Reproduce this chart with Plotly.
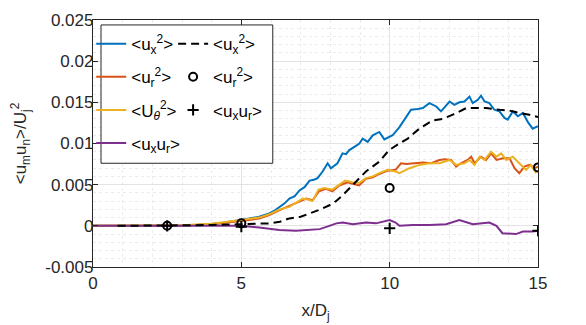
import plotly.graph_objects as go

# ---------------- data ----------------
blue_x = [0, 1, 2, 3, 3.5, 4, 4.3, 4.6, 5.0, 5.27, 5.6, 5.94, 6.1, 6.28, 6.45, 6.62, 6.8, 6.96, 7.13, 7.3, 7.45,
          7.57, 7.74, 7.91, 8.02, 8.24, 8.41, 8.53, 8.64, 8.81, 8.98, 9.09, 9.26, 9.43, 9.65, 9.82, 10.1, 10.33,
          10.55, 10.72, 10.95, 11.12, 11.34, 11.57, 11.73, 12.02, 12.18, 12.35, 12.52, 12.69, 12.8, 12.97, 13.08,
          13.2, 13.36, 13.53, 13.7, 13.87, 13.98, 14.15, 14.32, 14.49, 14.66, 14.82, 15]
blue_y = [0, 0, 0.00002, 0.00005, 0.0001, 0.0002, 0.0003, 0.0005, 0.0007, 0.0009, 0.0011, 0.0015, 0.0018, 0.0023,
          0.0027, 0.0033, 0.0036, 0.0043, 0.0047, 0.0055, 0.0056, 0.0058, 0.0066, 0.0076, 0.0070, 0.0076, 0.0088,
          0.0087, 0.0092, 0.0096, 0.0100, 0.0106, 0.0102, 0.0110, 0.0114, 0.0105, 0.0110, 0.0120, 0.0131, 0.0141,
          0.0142, 0.0143, 0.0149, 0.0145, 0.0139, 0.0151, 0.0147, 0.0150, 0.0151, 0.0157, 0.0149, 0.0153, 0.0158,
          0.0151, 0.0149, 0.0141, 0.0139, 0.0131, 0.0129, 0.0139, 0.0133, 0.0137, 0.0126, 0.0118, 0.0121]

orange_x = [0, 2, 3, 4, 4.6, 5.27, 5.6, 5.94, 6.29, 6.62, 6.85, 7.07, 7.19, 7.4, 7.62, 7.85, 8.07, 8.3, 8.58, 8.75,
            8.97, 9.2, 9.43, 9.65, 9.93, 10.2, 10.38, 10.55, 10.89, 11.12, 11.4, 11.68, 11.85, 12.07, 12.24, 12.4,
            12.63, 12.75, 12.86, 13.08, 13.25, 13.42, 13.6, 13.82, 14.04, 14.21, 14.37, 14.54, 14.71, 14.88, 15]
orange_y = [0, 0.00002, 0.00005, 0.0002, 0.0004, 0.0007, 0.0009, 0.0013, 0.0019, 0.0024, 0.0027, 0.0031, 0.0033,
            0.0031, 0.0042, 0.0045, 0.0042, 0.0049, 0.0053, 0.0051, 0.0049, 0.0057, 0.0059, 0.0063, 0.0067, 0.0068,
            0.0076, 0.0075, 0.0076, 0.0077, 0.0076, 0.0080, 0.0081, 0.0080, 0.0072, 0.0076, 0.0080, 0.0084, 0.0076,
            0.0084, 0.0080, 0.0088, 0.0080, 0.0082, 0.0082, 0.0070, 0.0064, 0.0072, 0.0074, 0.0070, 0.0072]

yellow_x = [0, 2, 3, 4, 4.6, 5.27, 5.6, 5.94, 6.29, 6.62, 6.85, 7.07, 7.25, 7.4, 7.6, 7.8, 8.07, 8.3, 8.5, 8.75,
            8.97, 9.2, 9.43, 9.65, 9.93, 10.2, 10.33, 10.67, 11.0, 11.34, 11.68, 12.02, 12.24, 12.52, 12.69, 12.86,
            13.03, 13.2, 13.42, 13.6, 13.76, 13.93, 14.15, 14.37, 14.6, 14.76, 14.94]
yellow_y = [0, 0.00002, 0.00006, 0.00025, 0.0005, 0.0008, 0.0010, 0.0014, 0.0020, 0.0023, 0.0028, 0.0033, 0.0032,
            0.0030, 0.0044, 0.0046, 0.0044, 0.0050, 0.0055, 0.0053, 0.0052, 0.0058, 0.0060, 0.0064, 0.0068, 0.0066,
            0.0064, 0.0070, 0.0074, 0.0076, 0.0076, 0.0080, 0.0074, 0.0076, 0.0080, 0.0074, 0.0084, 0.0080, 0.0090,
            0.0084, 0.0088, 0.0080, 0.0084, 0.0076, 0.0068, 0.0074, 0.0064]

purple_x = [0, 5, 5.6, 6.28, 6.84, 7.4, 7.64, 7.97, 8.2, 8.42, 8.76, 9.2, 9.54, 10.0, 10.2, 10.33, 10.78, 11.34,
            11.9, 12.35, 12.8, 13.36, 13.6, 13.8, 14.26, 14.49, 14.82, 15]
purple_y = [0, 0, -0.0002, -0.0005, -0.0006, -0.0005, -0.0004, 0.0000, 0.0003, 0.0004, 0.0002, 0.0004, 0.0003,
            0.0007, 0.0004, 0.0000, 0.0001, 0.0001, 0.0002, 0.0007, 0.0002, 0.0004, 0.0000, -0.0009, -0.0010,
            -0.0007, -0.0007, -0.0006]

dash_x = [0.83, 2, 3, 4, 5, 5.94, 6.3, 6.62, 7.0, 7.3, 7.6, 7.97, 8.19, 8.41, 8.81, 9.2, 9.65, 9.98, 10.33, 10.61,
          11.0, 11.45, 11.8, 12.13, 12.58, 12.92, 13.25, 13.7, 14.04, 14.37, 14.71, 15]
dash_y = [0, 0.00003, 0.00005, 0.0001, 0.0002, 0.0003, 0.0005, 0.0009, 0.0011, 0.0015, 0.0019, 0.0025, 0.0030,
          0.0037, 0.0052, 0.0066, 0.0078, 0.0092, 0.0100, 0.0106, 0.0118, 0.0128, 0.0130, 0.0135, 0.0143, 0.0143,
          0.0143, 0.0141, 0.0140, 0.0137, 0.0135, 0.0132]

circ_x = [2.5, 5, 10, 15]
circ_y = [0, 0.0003, 0.0046, 0.0071]
plus_x = [2.5, 5, 10, 15]
plus_y = [0, -0.0001, -0.0003, -0.0006]

x_ticks = [0, 5, 10, 15]
x_ticklabels = ["0", "5", "10", "15"]
y_ticks = [-0.005, 0, 0.005, 0.01, 0.015, 0.02, 0.025]
y_ticklabels = ["-0.005", "0", "0.005", "0.01", "0.015", "0.02", "0.025"]

# ---------------- figure ----------------
FONT = "Liberation Sans, Arial, Helvetica, sans-serif"
TXT = "#262626"
BLUE, ORANGE, YELLOW, PURPLE = "#0072BD", "#D95319", "#EDB120", "#7E2F8E"

fig = go.Figure()

def line(x, y, color, name, grp, legend, dash="solid"):
    fig.add_trace(go.Scatter(x=x, y=y, mode="lines", name=name, legendgroup=grp, legend=legend,
                             line=dict(color=color, width=2, dash=dash)))

line(blue_x, blue_y, BLUE, "&lt;u<sub>x</sub><sup>2</sup>&gt;", "g1", "legend")
line(orange_x, orange_y, ORANGE, "&lt;u<sub>r</sub><sup>2</sup>&gt;", "g2", "legend")
line(yellow_x, yellow_y, YELLOW, "&lt;U<sub><i>θ</i></sub><sup>2</sup>&gt;", "g3", "legend")
line(purple_x, purple_y, PURPLE, "&lt;u<sub>x</sub>u<sub>r</sub>&gt;", "g4", "legend")
line(dash_x, dash_y, "black", "&lt;u<sub>x</sub><sup>2</sup>&gt;", "h1", "legend2", dash="8px,5px")

fig.add_trace(go.Scatter(x=circ_x, y=circ_y, mode="markers", name="&lt;u<sub>r</sub><sup>2</sup>&gt;",
                         legendgroup="h2", legend="legend2",
                         marker=dict(symbol="circle-open", size=8, color="black", line=dict(width=2, color="black"))))
fig.add_trace(go.Scatter(x=plus_x, y=plus_y, mode="markers", name="&lt;u<sub>x</sub>u<sub>r</sub>&gt;",
                         legendgroup="h3", legend="legend2",
                         marker=dict(symbol="cross-thin", size=8, color="black", line=dict(width=2, color="black"))))

axis_common = dict(
    showline=True, linecolor=TXT, linewidth=1.3, mirror="ticks",
    ticks="inside", ticklen=5, tickwidth=1, tickcolor=TXT,
    showgrid=True, gridcolor="#e3e3e3", gridwidth=1, zeroline=False,
    tickfont=dict(family=FONT, size=17, color=TXT), automargin=False,
)

fig.update_xaxes(range=[0, 15], tickvals=x_ticks, ticktext=x_ticklabels,
                 minor=dict(dtick=1, showgrid=True, gridcolor="#ebebeb", griddash="dot", ticks=""),
                 title=dict(text="x/D<sub>j</sub>", font=dict(family=FONT, size=17, color=TXT), standoff=12),
                 **axis_common)
fig.update_yaxes(range=[-0.005, 0.025], tickvals=y_ticks, ticktext=y_ticklabels, ticklabelstandoff=-5,
                 minor=dict(dtick=0.001, showgrid=True, gridcolor="#ebebeb", griddash="dot", ticks=""),
                 title=dict(text="&lt;u<sub>m</sub>u<sub>n</sub>&gt;/U<sub>j</sub><sup>2</sup>",
                            font=dict(family=FONT, size=17, color=TXT), standoff=18),
                 **axis_common)

legend_font = dict(family=FONT, size=17, color="black")
fig.update_layout(
    width=586, height=325,
    margin=dict(l=85, r=56, t=12, b=66),
    paper_bgcolor="white", plot_bgcolor="white",
    showlegend=True,
    legend=dict(x=-0.004, y=0.975, xanchor="left", yanchor="top", bgcolor="rgba(0,0,0,0)",
                font=legend_font, traceorder="grouped", tracegroupgap=8, itemwidth=30),
    legend2=dict(x=0.18, y=0.975, xanchor="left", yanchor="top", bgcolor="rgba(0,0,0,0)",
                 font=legend_font, traceorder="grouped", tracegroupgap=8, itemwidth=30),
    shapes=[dict(type="rect", xref="paper", yref="paper", x0=0.018, x1=0.404, y0=0.42, y1=0.98,
                 line=dict(color=TXT, width=1), fillcolor="white", layer="above")],
)

fig.write_html("out.html")
